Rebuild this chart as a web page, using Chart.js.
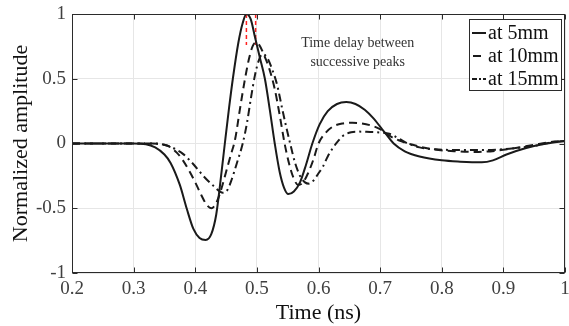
<!DOCTYPE html>
<html>
<head>
<meta charset="utf-8">
<script src="https://cdn.jsdelivr.net/npm/chart.js@4.4.1/dist/chart.umd.min.js"></script>
<style>
  html, body { margin: 0; padding: 0; background: #fff; }
  #wrap { width: 569px; height: 326px; }
</style>
</head>
<body>
<div id="wrap"><canvas id="c" width="569" height="326"></canvas></div>
<script>
// ---------------- DATA ----------------
const seriesNames = ['at 5mm', 'at 10mm', 'at 15mm'];

const t5 = [0.2, 0.3, 0.32, 0.335, 0.35, 0.36, 0.375, 0.386, 0.397, 0.407, 0.417, 0.426, 0.434, 0.44,
  0.448, 0.455, 0.461, 0.47, 0.477, 0.483, 0.49, 0.497, 0.505, 0.513, 0.521, 0.529, 0.537, 0.544, 0.551,
  0.56, 0.57, 0.58, 0.59, 0.602, 0.615, 0.63, 0.645, 0.66, 0.675, 0.69, 0.70, 0.71, 0.722, 0.74, 0.764,
  0.80, 0.83, 0.865, 0.883, 0.905, 0.937, 0.97, 1.0];
const a5 = [0, 0, -0.005, -0.03, -0.085, -0.15, -0.32, -0.5, -0.66, -0.73, -0.745, -0.70, -0.55, -0.33,
  0, 0.28, 0.5, 0.78, 0.93, 1.0, 0.96, 0.82, 0.66, 0.5, 0.26, 0, -0.22, -0.34, -0.39,
  -0.37, -0.3, -0.16, 0, 0.15, 0.25, 0.305, 0.32, 0.305, 0.26, 0.19, 0.13, 0.07, 0, -0.06, -0.10,
  -0.13, -0.14, -0.145, -0.13, -0.085, -0.035, 0, 0.02];

const t10 = [0.2, 0.33, 0.35, 0.36, 0.37, 0.38, 0.39, 0.40, 0.41, 0.418, 0.426, 0.435, 0.443, 0.45,
  0.457, 0.465, 0.472, 0.48, 0.487, 0.493, 0.498, 0.504, 0.511, 0.52, 0.529, 0.537, 0.545, 0.552,
  0.559, 0.567, 0.575, 0.583, 0.592, 0.60, 0.613, 0.625, 0.64, 0.655, 0.67, 0.688, 0.70, 0.715,
  0.73, 0.753, 0.78, 0.82, 0.86, 0.89, 0.92, 0.95, 0.975, 1.0];
const a10 = [0, 0, -0.01, -0.03, -0.07, -0.13, -0.21, -0.30, -0.40, -0.47, -0.50, -0.45, -0.34, -0.22,
  -0.10, 0.04, 0.25, 0.48, 0.65, 0.75, 0.78, 0.76, 0.69, 0.58, 0.42, 0.22, 0, -0.15,
  -0.26, -0.32, -0.30, -0.23, -0.12, 0, 0.09, 0.135, 0.155, 0.16, 0.155, 0.135, 0.11, 0.06,
  0.025, -0.01, -0.04, -0.06, -0.065, -0.055, -0.035, -0.01, 0.01, 0.02];

const t15 = [0.2, 0.33, 0.345, 0.36, 0.37, 0.38, 0.397, 0.413, 0.429, 0.445, 0.452, 0.459, 0.467, 0.477,
  0.484, 0.49, 0.497, 0.503, 0.509, 0.517, 0.525, 0.533, 0.541, 0.548, 0.554, 0.562, 0.57, 0.578,
  0.585, 0.593, 0.60, 0.607, 0.615, 0.624, 0.632, 0.64, 0.653, 0.665, 0.678, 0.70, 0.715, 0.731,
  0.745, 0.764, 0.79, 0.83, 0.87, 0.91, 0.953, 0.98, 1.0];
const a15 = [0, 0, -0.005, -0.025, -0.05, -0.08, -0.16, -0.25, -0.325, -0.38, -0.36, -0.28, -0.16, 0,
  0.16, 0.34, 0.53, 0.64, 0.69, 0.66, 0.57, 0.45, 0.27, 0.12, 0, -0.15, -0.25, -0.30,
  -0.31, -0.28, -0.23, -0.18, -0.10, -0.03, 0.02, 0.06, 0.087, 0.092, 0.09, 0.085, 0.075, 0.036,
  0, -0.03, -0.045, -0.05, -0.05, -0.04, -0.015, 0.01, 0.02];

// red markers of the two first peaks
const peakTimes = [0.483, 0.498];
const peakMarkRange = [1, 0.76];

const xTicks = [0.2, 0.3, 0.4, 0.5, 0.6, 0.7, 0.8, 0.9, 1];
const yTicks = [-1, -0.5, 0, 0.5, 1];

const noteLines = ['Time delay between', 'successive peaks'];

// ---------------- STYLE ----------------
const SERIF = '"Liberation Serif", "Times New Roman", Times, serif';
const INK = '#1a1a1a';
const AXIS = '#2b2b2b';
const dashes = [[], [8, 5], [8, 4, 2, 4]];

const toPts = (ts, as) => ts.map((t, i) => ({ x: t, y: as[i] }));
const fmt = v => String(+(+v).toFixed(2));

const curves = [toPts(t5, a5), toPts(t10, a10), toPts(t15, a15)].map((pts, i) => ({
  label: seriesNames[i],
  data: pts,
  borderColor: INK,
  borderWidth: 2,
  borderDash: dashes[i],
  pointRadius: 0,
  fill: false,
  tension: 0.4,
  cubicInterpolationMode: 'monotone'
}));

const markers = peakTimes.map(t => ({
  label: 'peak ' + t,
  data: peakMarkRange.map(v => ({ x: t, y: v })),
  borderColor: '#ff2020',
  borderWidth: 1.5,
  borderDash: [4, 3],
  pointRadius: 0,
  fill: false,
  tension: 0
}));

// box, inward ticks, note text and legend in the MATLAB look
const matlabFrame = {
  id: 'matlabFrame',
  afterDraw(chart) {
    const { ctx, chartArea: a, scales: { x, y } } = chart;
    const L = Math.round(a.left) + 0.5, R = Math.round(a.right) - 0.5;
    const T = Math.round(a.top) + 0.5, B = Math.round(a.bottom) - 0.5;
    ctx.save();
    ctx.strokeStyle = AXIS;
    ctx.lineWidth = 1;
    ctx.setLineDash([]);
    ctx.strokeRect(L, T, R - L, B - T);

    const tl = 5;
    ctx.beginPath();
    xTicks.forEach(v => {
      const px = Math.round(x.getPixelForValue(v)) + 0.5;
      ctx.moveTo(px, B); ctx.lineTo(px, B - tl);
      ctx.moveTo(px, T); ctx.lineTo(px, T + tl);
    });
    yTicks.forEach(v => {
      const py = Math.round(y.getPixelForValue(v)) + 0.5;
      ctx.moveTo(L, py); ctx.lineTo(L + tl, py);
      ctx.moveTo(R, py); ctx.lineTo(R - tl, py);
    });
    ctx.stroke();

    // annotation
    ctx.fillStyle = '#333';
    ctx.font = '14px ' + SERIF;
    ctx.textAlign = 'center';
    ctx.textBaseline = 'middle';
    const nx = x.getPixelForValue(0.6635);
    ctx.fillText(noteLines[0], nx, y.getPixelForValue(0.773));
    ctx.fillText(noteLines[1], nx, y.getPixelForValue(0.626));

    // legend
    const bx = 469.5, by = 19.5, bw = 92, bh = 71;
    ctx.fillStyle = '#fff';
    ctx.fillRect(bx, by, bw, bh);
    ctx.strokeStyle = AXIS;
    ctx.strokeRect(bx, by, bw, bh);
    ctx.font = '20px ' + SERIF;
    ctx.textAlign = 'left';
    ctx.fillStyle = '#111';
    seriesNames.forEach((name, i) => {
      const ly = 33 + i * 23;
      ctx.save();
      ctx.strokeStyle = INK;
      ctx.lineWidth = 2;
      ctx.setLineDash(i === 1 ? [8, 20] : i === 2 ? [5, 2, 2, 2] : []);
      ctx.beginPath();
      ctx.moveTo(i === 1 ? 473 : 472, ly);
      ctx.lineTo(486, ly);
      ctx.stroke();
      ctx.restore();
      ctx.fillText(name, 488, ly + 1);
    });
    ctx.restore();
  }
};

new Chart(document.getElementById('c').getContext('2d'), {
  type: 'line',
  data: { datasets: [...curves, ...markers] },
  plugins: [matlabFrame],
  options: {
    responsive: false,
    animation: false,
    devicePixelRatio: 1,
    layout: { padding: { top: 14, right: 4, left: 0, bottom: 0 } },
    plugins: {
      legend: { display: false },
      tooltip: { enabled: false },
      title: { display: false }
    },
    scales: {
      x: {
        type: 'linear',
        min: 0.2,
        max: 1,
        afterFit: s => { s.height = 53; s.paddingLeft = 0; s.paddingRight = 0; },
        afterBuildTicks: s => { s.ticks = xTicks.map(v => ({ value: v })); },
        ticks: {
          padding: 5,
          color: '#404040',
          font: { family: SERIF, size: 19 },
          maxRotation: 0,
          callback: fmt
        },
        grid: { color: '#e6e6e6', drawTicks: false },
        border: { display: false },
        title: {
          display: true,
          text: 'Time (ns)',
          color: '#111',
          font: { family: SERIF, size: 22, lineHeight: 1.2 },
          padding: { top: 0, bottom: 0 }
        }
      },
      y: {
        min: -1,
        max: 1,
        afterFit: s => { s.width = 72; s.paddingTop = 0; s.paddingBottom = 0; },
        afterBuildTicks: s => { s.ticks = yTicks.map(v => ({ value: v })); },
        ticks: {
          padding: 6,
          color: '#404040',
          font: { family: SERIF, size: 19 },
          callback: fmt
        },
        grid: { color: '#e6e6e6', drawTicks: false },
        border: { display: false },
        title: {
          display: true,
          text: 'Normalized amplitude',
          color: '#111',
          font: { family: SERIF, size: 22, lineHeight: 1.2 },
          padding: { top: 8, bottom: 0 }
        }
      }
    }
  }
});
</script>
</body>
</html>
